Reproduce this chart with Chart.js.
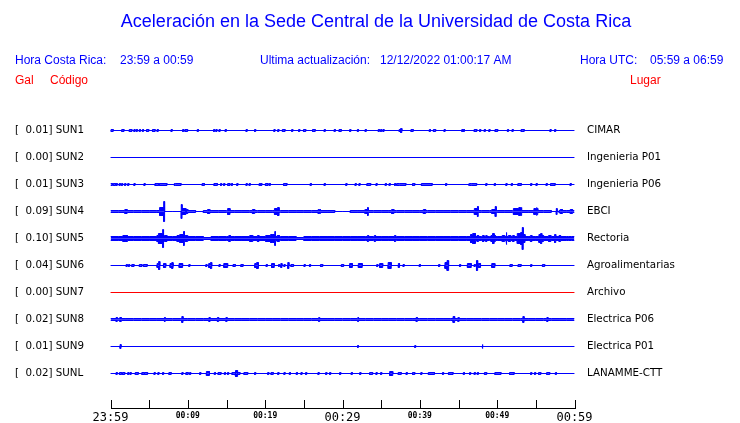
<!DOCTYPE html>
<html>
<head>
<meta charset="utf-8">
<script src="https://cdn.jsdelivr.net/npm/chart.js@4.4.0/dist/chart.umd.min.js"></script>
<style>
html, body { margin: 0; padding: 0; background: #fff; overflow: hidden; }
#wrap { width: 740px; height: 423px; }
</style>
</head>
<body>
<div id="wrap"><canvas id="sismo"></canvas></div>
<script>
// estaciones, de arriba hacia abajo
const stations = ['SUN1', 'SUN2', 'SUN3', 'SUN4', 'SUN5', 'SUN6', 'SUN7', 'SUN8', 'SUN9', 'SUNL'];
const places = ['CIMAR', 'Ingenieria P01', 'Ingenieria P06', 'EBCI', 'Rectoria', 'Agroalimentarias', 'Archivo', 'Electrica P06', 'Electrica P01', 'LANAMME-CTT'];
const peakGal = ['0.01', '0.00', '0.01', '0.09', '0.10', '0.04', '0.00', '0.02', '0.01', '0.02'];
const timeLabels = ['23:59', '00:09', '00:19', '00:29', '00:39', '00:49', '00:59'];

// ruido de fondo por minuto (semi-amplitud)
const bgSUN4 = [1, 1, 1, 1, 1, 1, 1, 0, 0, 0, 1, 0, 1, 1, 1, 1, 1, 1, 1, 1,
  1, 1, 1, 1, 1, 1, 1, 1, 1, 0, 0, 1, 1, 1, 1, 1, 1, 1, 1, 1,
  1, 1, 1, 1, 1, 1, 1, 1, 1, 1, 1, 1, 1, 1, 1, 1, 1, 0, 1, 1];
const bgSUN5 = [2, 2, 2, 2, 2, 2, 2, 2, 2, 2, 2, 2, 1, 2, 2, 2, 2, 2, 2, 2,
  2, 2, 2, 2, 1, 2, 2, 2, 2, 2, 2, 2, 2, 2, 2, 2, 2, 2, 2, 2,
  2, 2, 2, 2, 2, 2, 2, 2, 2, 2, 2, 2, 2, 2, 2, 2, 2, 2, 2, 2];
const bgSUN8 = [1, 1, 1, 1, 1, 1, 1, 1, 1, 1, 1, 1, 1, 1, 1, 1, 1, 1, 1, 1,
  1, 1, 1, 1, 1, 1, 1, 1, 1, 1, 1, 1, 1, 1, 1, 1, 1, 1, 1, 1,
  1, 1, 1, 1, 1, 1, 1, 1, 1, 1, 1, 1, 1, 1, 1, 1, 1, 1, 1, 1];

// rafagas: [minuto, semi-amplitud, duracion en minutos]
const evSUN1 = [[0.2, 1, 0.3], [1.6, 1, 0.3], [2.6, 1, 0.35], [3.1, 1], [3.4, 1], [3.8, 1], [4.2, 1], [4.8, 1, 0.3], [5.6, 1, 0.35], [6.1, 1],
  [7.9, 1], [9.4, 1], [9.8, 1, 0.35], [11.3, 1], [13.4, 1], [13.7, 1], [14.1, 1], [14.9, 1], [17.6, 1], [18.7, 1],
  [21.2, 1], [21.7, 1], [22.4, 1, 0.35], [23.5, 1], [24.4, 1], [25.1, 1, 0.3], [26.3, 1, 0.35], [27.7, 1], [29.0, 1], [29.7, 1, 0.3],
  [31.0, 1], [32.0, 1], [33.0, 1], [34.7, 1], [35.0, 1], [35.3, 1], [37.4, 1], [37.6, 2], [39.0, 1, 0.3], [41.3, 1],
  [41.9, 1, 0.3], [43.2, 1], [45.5, 1], [45.7, 1], [47.2, 1, 0.35], [47.8, 1], [48.4, 1], [49.0, 1], [49.9, 1, 0.35], [51.4, 1],
  [52.0, 1], [53.3, 1, 0.4], [56.9, 1], [57.5, 1]];
const evSUN2 = [];
const evSUN3 = [[0.1, 1, 0.3], [0.5, 1, 0.3], [0.8, 1], [1.2, 1], [1.5, 1], [1.9, 1], [2.3, 1], [3.1, 1], [4.4, 1], [6.0, 1, 0.5],
  [6.8, 1, 1.0], [8.3, 1], [8.7, 1, 0.85], [12.0, 1, 0.3], [13.6, 1, 0.45], [14.3, 1], [14.7, 1], [15.3, 1, 0.3], [15.7, 1], [16.4, 1],
  [17.6, 1], [18.0, 1], [19.3, 1], [19.5, 1], [20.2, 1, 0.35], [20.6, 1], [22.6, 1, 0.45], [25.9, 1], [27.7, 1],
  [30.5, 1], [31.7, 1], [32.2, 1], [33.4, 1, 0.5], [34.4, 1], [35.6, 1], [36.1, 1], [36.8, 1], [37.2, 1, 0.4], [37.8, 1, 0.8],
  [39.2, 1, 0.3], [40.9, 1, 1.4], [43.4, 1], [46.5, 1, 0.3], [46.9, 1, 0.9], [48.6, 1], [49.7, 1], [51.2, 1], [51.9, 1], [52.9, 1, 0.45],
  [54.4, 1], [55.1, 1], [56.4, 1], [57.2, 1, 0.6], [59.5, 1]];
const evSUN4 = [[2.0, 2, 0.3], [6.6, 4, 0.5], [6.94, 10, 0.1], [9.2, 7, 0.1], [9.5, 3, 0.5], [9.9, 2, 0.2], [12.7, 2, 0.3], [15.3, 3, 0.3],
  [18.5, 2, 0.3], [21.5, 3, 0.6], [21.7, 4, 0.2], [27.0, 2, 0.3], [33.1, 2, 0.4], [33.3, 4, 0.12], [36.5, 2, 0.3], [40.6, 2, 0.3],
  [47.3, 3, 0.5], [47.5, 5, 0.1], [49.6, 2, 0.6], [49.8, 5, 0.1], [52.6, 3, 1.0], [53.0, 4, 0.4], [55.0, 3, 0.5], [55.1, 4, 0.1],
  [57.7, 3, 0.1], [58.3, 2, 0.3], [59.6, 2, 0.3]];
const evSUN5 = [[1.9, 3, 0.6], [6.2, 3, 0.4], [6.5, 5, 0.6], [6.8, 9, 0.1], [7.1, 3, 0.4], [8.8, 3, 0.4], [9.2, 4, 0.5], [9.5, 7, 0.1],
  [9.8, 3, 0.3], [15.4, 3, 0.2], [18.2, 3, 0.4], [19.1, 3, 0.2], [20.4, 3, 0.6], [21.0, 4, 0.6], [21.3, 7, 0.1], [21.7, 3, 0.3],
  [33.3, 3, 0.15], [34.2, 3, 0.15], [36.8, 3, 0.15], [40.9, 2, 0.2], [46.7, 4, 0.3], [47.0, 5, 0.4], [47.5, 3, 0.2], [48.2, 3, 0.2],
  [48.6, 3, 0.15], [49.3, 3, 0.2], [49.5, 5, 0.2], [49.7, 3, 0.15], [50.8, 3, 0.3], [51.2, 6, 0.1], [51.6, 3, 0.3], [52.1, 3, 0.2],
  [52.8, 5, 0.4], [53.2, 6, 0.3], [53.3, 11, 0.1], [53.5, 4, 0.2], [54.4, 3, 0.2], [55.5, 4, 0.2], [55.7, 5, 0.15], [55.9, 3, 0.2],
  [56.8, 3, 0.3], [57.5, 4, 0.15], [58.1, 3, 0.2], [59.4, 2, 0.4]];
const evSUN6 = [[2.1, 1], [2.4, 1], [2.9, 1, 0.3], [3.9, 1, 0.35], [4.5, 1, 0.5], [6.2, 2, 0.35], [6.3, 4, 0.15], [7.0, 2, 0.3],
  [7.9, 2, 0.4], [8.0, 3, 0.15], [9.1, 2, 0.45], [10.2, 1], [12.4, 1], [12.9, 2, 0.4], [13.0, 3, 0.15], [14.1, 1], [14.9, 2, 0.5],
  [16.0, 1, 0.3], [17.0, 1, 0.3], [18.9, 2, 0.5], [19.0, 3, 0.2], [20.2, 1], [21.0, 2, 0.35], [21.8, 1], [22.1, 2], [22.5, 1],
  [23.0, 3], [23.5, 1, 0.35], [25.1, 1], [25.8, 1], [27.3, 1, 0.3], [30.0, 1, 0.3],
  [31.1, 2, 0.35], [32.3, 2, 0.5], [34.5, 1], [35.0, 2, 0.4], [36.1, 3, 0.4], [37.3, 2, 0.15], [37.9, 1], [40.0, 1], [42.5, 1],
  [43.5, 3, 0.5], [43.6, 5, 0.15], [45.2, 1], [46.4, 2, 0.5], [47.1, 1], [47.4, 5], [47.7, 2, 0.3], [49.5, 2, 0.4], [51.8, 1, 0.3],
  [52.9, 1, 0.4], [54.4, 1], [56.0, 1, 0.3]];
const evSUN7 = [];
const evSUN8 = [[0.8, 2, 0.15], [1.3, 2, 0.2], [7.0, 2], [9.3, 3], [12.8, 2], [13.9, 2], [15.0, 2], [27.0, 2], [32.0, 2], [39.6, 2],
  [44.4, 3, 0.2], [45.0, 2], [53.4, 3], [56.5, 2]];
const evSUN9 = [[1.3, 2, 0.12], [32.0, 1, 0.12], [39.4, 1, 0.12], [48.1, 2, 0.12]];
const evSUNL = [[0.8, 1], [1.3, 1, 0.3], [1.7, 1, 0.3], [2.3, 1], [2.6, 1], [3.4, 1, 0.4], [4.2, 1, 0.3], [4.6, 1, 0.4], [5.7, 1], [6.2, 1],
  [6.8, 1], [7.7, 1, 0.3], [9.3, 1], [9.9, 1, 0.3], [10.3, 1], [11.6, 1], [12.6, 2, 0.4], [13.5, 1], [14.1, 1, 0.4], [14.8, 1],
  [15.2, 1], [15.9, 1, 0.4], [16.3, 3, 0.2], [16.6, 1, 0.3], [17.5, 1, 0.5], [18.7, 1], [20.4, 1], [20.9, 1, 0.3], [21.7, 1], [22.5, 1],
  [23.2, 1], [24.1, 1], [24.7, 1], [25.3, 1], [26.9, 1], [27.9, 1], [28.4, 1], [29.7, 1],
  [31.2, 1], [32.3, 1], [33.7, 1, 0.4], [34.4, 1], [35.0, 1], [36.3, 2, 0.4], [37.4, 1, 0.4], [38.3, 1], [39.2, 1, 0.3], [40.2, 1],
  [41.5, 1, 0.8], [43.0, 1], [44.0, 1, 0.6], [45.7, 1], [46.5, 1], [47.1, 1], [47.5, 1], [48.5, 1, 0.3], [50.1, 1, 0.8], [51.9, 1, 0.6],
  [54.4, 1], [54.9, 1], [55.5, 1, 0.3], [56.6, 1, 0.4], [57.6, 1]];

const backgrounds = [null, null, null, bgSUN4, bgSUN5, null, null, bgSUN8, null, null];
const bursts = [evSUN1, evSUN2, evSUN3, evSUN4, evSUN5, evSUN6, evSUN7, evSUN8, evSUN9, evSUNL];

const ROW = 27;
const TOP_BASE = 278.5;
const baseOf = k => TOP_BASE - ROW * k;
const DUR = 0.15;

// tramos [x0, x1, semi-amplitud] a partir del fondo y las rafagas
function envelope(bg, events) {
  const cuts = new Set([0, 60]);
  if (bg) bg.forEach((_, i) => cuts.add(i));
  events.forEach(([t, a, d = DUR]) => {
    cuts.add(Math.max(0, t - d / 2));
    cuts.add(Math.min(60, t + d / 2));
  });
  const xs = [...cuts].sort((p, q) => p - q);
  const runs = [];
  for (let i = 0; i < xs.length - 1; i++) {
    const mid = (xs[i] + xs[i + 1]) / 2;
    let a = bg ? bg[Math.floor(mid)] : 0;
    events.forEach(([t, amp, d = DUR]) => {
      if (mid > t - d / 2 && mid < t + d / 2 && amp > a) a = amp;
    });
    runs.push([xs[i], xs[i + 1], a]);
  }
  return runs;
}

const datasets = [];
stations.forEach((st, k) => {
  const base = baseOf(k);
  const color = st === 'SUN7' ? '#ff0000' : '#0000ff';
  const runs = envelope(backgrounds[k], bursts[k]);
  [1, -1].forEach(sign => {
    const pts = [];
    runs.forEach(([x0, x1, a]) => {
      pts.push({ x: x0, y: base + sign * a });
      pts.push({ x: x1, y: base + sign * a });
    });
    datasets.push({
      label: st,
      data: pts,
      borderColor: color,
      backgroundColor: color,
      borderWidth: 1,
      pointRadius: 0,
      tension: 0,
      fill: { value: base }
    });
  });
});

const stationIndex = v => Math.round((TOP_BASE - v) / ROW);

const headerPlugin = {
  id: 'header',
  afterDraw(chart) {
    const c = chart.ctx;
    c.save();
    c.textBaseline = 'middle';
    c.fillStyle = '#0000ff';
    c.textAlign = 'center';
    c.font = '18px "Liberation Sans"';
    c.fillText('Aceleración en la Sede Central de la Universidad de Costa Rica', 376, 22);
    c.textAlign = 'left';
    c.font = '12px "Liberation Sans"';
    c.fillText('Hora Costa Rica:', 15, 61);
    c.fillText('23:59 a 00:59', 120, 61);
    c.fillText('Ultima actualización:', 260, 61);
    c.fillText('12/12/2022 01:00:17 AM', 380, 61);
    c.fillText('Hora UTC:', 580, 61);
    c.fillText('05:59 a 06:59', 650, 61);
    c.fillStyle = '#ff0000';
    c.fillText('Gal', 15, 81);
    c.fillText('Código', 50, 81);
    c.fillText('Lugar', 630, 81);

    // eje de tiempo con marcas hacia arriba
    const x = chart.scales.x;
    const area = chart.chartArea;
    const yb = Math.round(area.bottom) - 0.5;
    c.strokeStyle = '#000';
    c.lineWidth = 1;
    c.beginPath();
    c.moveTo(Math.round(area.left), yb);
    c.lineTo(Math.round(area.right) + 1, yb);
    x.ticks.forEach(t => {
      const px = Math.round(x.getPixelForValue(t.value)) + 0.5;
      c.moveTo(px, yb - 8.5);
      c.lineTo(px, yb + 0.5);
    });
    c.stroke();
    c.restore();
  }
};

const labelFont = { family: 'DejaVu Sans', size: 10.3 };

new Chart(document.getElementById('sismo'), {
  type: 'line',
  data: { datasets },
  options: {
    responsive: true,
    maintainAspectRatio: false,
    animation: false,
    events: [],
    layout: { padding: { left: 15, top: 110, right: 0, bottom: 0 } },
    plugins: { legend: { display: false }, tooltip: { enabled: false }, title: { display: false } },
    scales: {
      x: {
        type: 'linear',
        min: 0,
        max: 60,
        grid: { display: false, drawTicks: false },
        border: { display: false },
        afterFit: s => { s.height = 14; },
        ticks: {
          stepSize: 5,
          autoSkip: false,
          maxRotation: 0,
          padding: 2,
          color: '#000',
          font: c => (c.tick && c.tick.value % 30 === 0)
            ? { family: 'DejaVu Sans Mono', size: 12 }
            : { family: 'DejaVu Sans Mono', size: 8, weight: 'bold' },
          callback: v => (v % 10 === 0 ? timeLabels[v / 10] : '')
        }
      },
      y: {
        type: 'linear',
        position: 'left',
        min: 0,
        max: 299,
        grid: { display: false, drawTicks: false },
        border: { display: false },
        afterBuildTicks: s => { s.ticks = stations.map((_, k) => ({ value: baseOf(k) })); },
        afterFit: s => { s.width = 95.5; },
        ticks: {
          autoSkip: false,
          crossAlign: 'far',
          padding: 0,
          color: '#000',
          font: labelFont,
          callback: v => '[  ' + peakGal[stationIndex(v)] + '] ' + stations[stationIndex(v)]
        }
      },
      y2: {
        type: 'linear',
        position: 'right',
        min: 0,
        max: 299,
        grid: { display: false, drawTicks: true, tickLength: 12.5 },
        border: { display: false },
        afterBuildTicks: s => { s.ticks = stations.map((_, k) => ({ value: baseOf(k) })); },
        afterFit: s => { s.width = 165.5; },
        ticks: {
          autoSkip: false,
          crossAlign: 'near',
          padding: 0,
          color: '#000',
          font: labelFont,
          callback: v => places[stationIndex(v)]
        }
      }
    }
  },
  plugins: [headerPlugin]
});
</script>
</body>
</html>
